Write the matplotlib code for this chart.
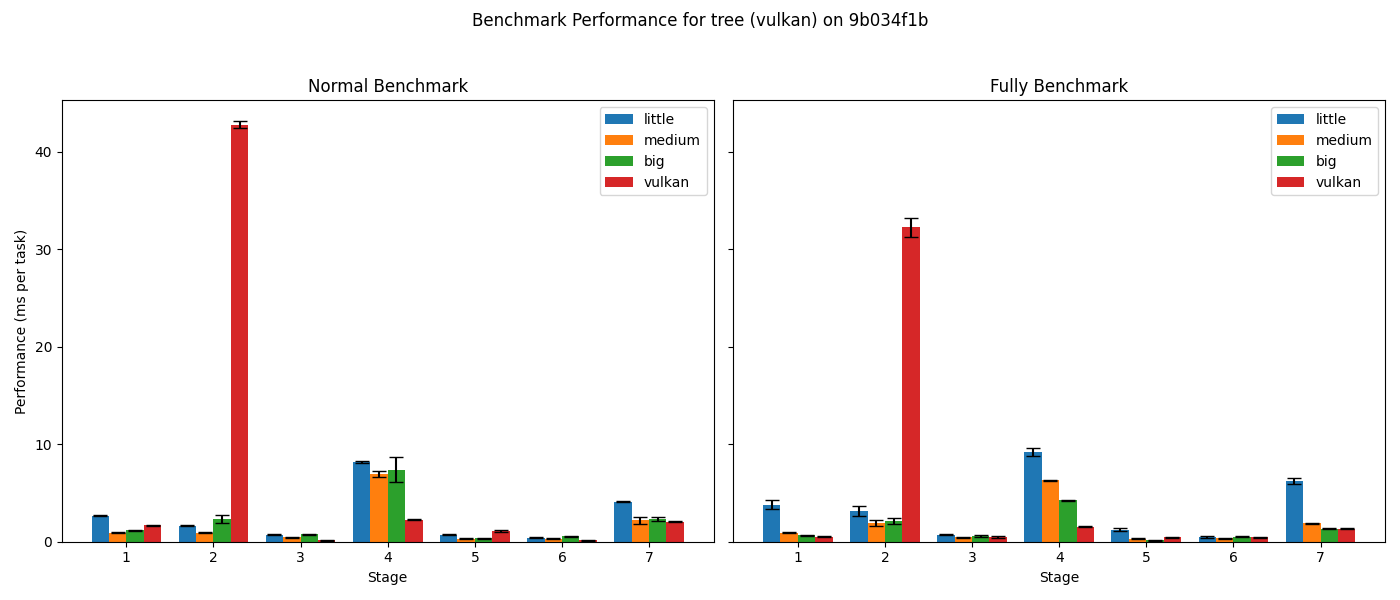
import matplotlib
matplotlib.use("Agg")
import matplotlib.pyplot as plt
import numpy as np

stages = [1, 2, 3, 4, 5, 6, 7]
cores = ["little", "medium", "big", "vulkan"]

# Normal benchmark, mean per stage (ms per task)
normal_little = [2.65, 1.64, 0.72, 8.2, 0.72, 0.41, 4.1]
normal_medium = [0.92, 0.92, 0.44, 6.97, 0.3, 0.3, 2.22]
normal_big = [1.2, 2.36, 0.75, 7.38, 0.34, 0.55, 2.36]
normal_vulkan = [1.7, 42.77, 0.17, 2.26, 1.13, 0.17, 2.05]

normal_little_err = [0.05, 0.05, 0.05, 0.1, 0.05, 0.05, 0.05]
normal_medium_err = [0.05, 0.05, 0.05, 0.3, 0.05, 0.05, 0.36]
normal_big_err = [0.05, 0.43, 0.05, 1.3, 0.05, 0.05, 0.2]
normal_vulkan_err = [0.05, 0.37, 0.05, 0.05, 0.1, 0.05, 0.05]

# Fully benchmark
fully_little = [3.8, 3.18, 0.72, 9.2, 1.23, 0.44, 6.25]
fully_medium = [0.92, 1.95, 0.48, 6.29, 0.3, 0.34, 1.91]
fully_big = [0.65, 2.15, 0.55, 4.24, 0.17, 0.51, 1.33]
fully_vulkan = [0.51, 32.24, 0.48, 1.54, 0.48, 0.44, 1.33]

fully_little_err = [0.43, 0.53, 0.05, 0.4, 0.15, 0.1, 0.3]
fully_medium_err = [0.05, 0.3, 0.05, 0.05, 0.05, 0.05, 0.05]
fully_big_err = [0.05, 0.3, 0.1, 0.05, 0.05, 0.05, 0.05]
fully_vulkan_err = [0.05, 1.0, 0.1, 0.05, 0.05, 0.05, 0.05]

normal = [normal_little, normal_medium, normal_big, normal_vulkan]
normal_err = [normal_little_err, normal_medium_err, normal_big_err, normal_vulkan_err]
fully = [fully_little, fully_medium, fully_big, fully_vulkan]
fully_err = [fully_little_err, fully_medium_err, fully_big_err, fully_vulkan_err]

width = 0.2
x = np.arange(len(stages))

fig, axes = plt.subplots(1, 2, figsize=(14, 6), sharey=True)

for ax, data, errs, title in zip(axes, [normal, fully], [normal_err, fully_err],
                                 ["Normal Benchmark", "Fully Benchmark"]):
    for i, core in enumerate(cores):
        ax.bar(x + (i - 1.5) * width, data[i], width, yerr=errs[i],
               capsize=5, label=core)
    ax.set_title(title)
    ax.set_xlabel("Stage")
    ax.set_xticks(x)
    ax.set_xticklabels(stages)
    ax.legend(loc="upper right")

axes[0].set_ylabel("Performance (ms per task)")
fig.suptitle("Benchmark Performance for tree (vulkan) on 9b034f1b")
plt.tight_layout()
plt.subplots_adjust(top=0.833)
plt.savefig("out.png", dpi=100)
